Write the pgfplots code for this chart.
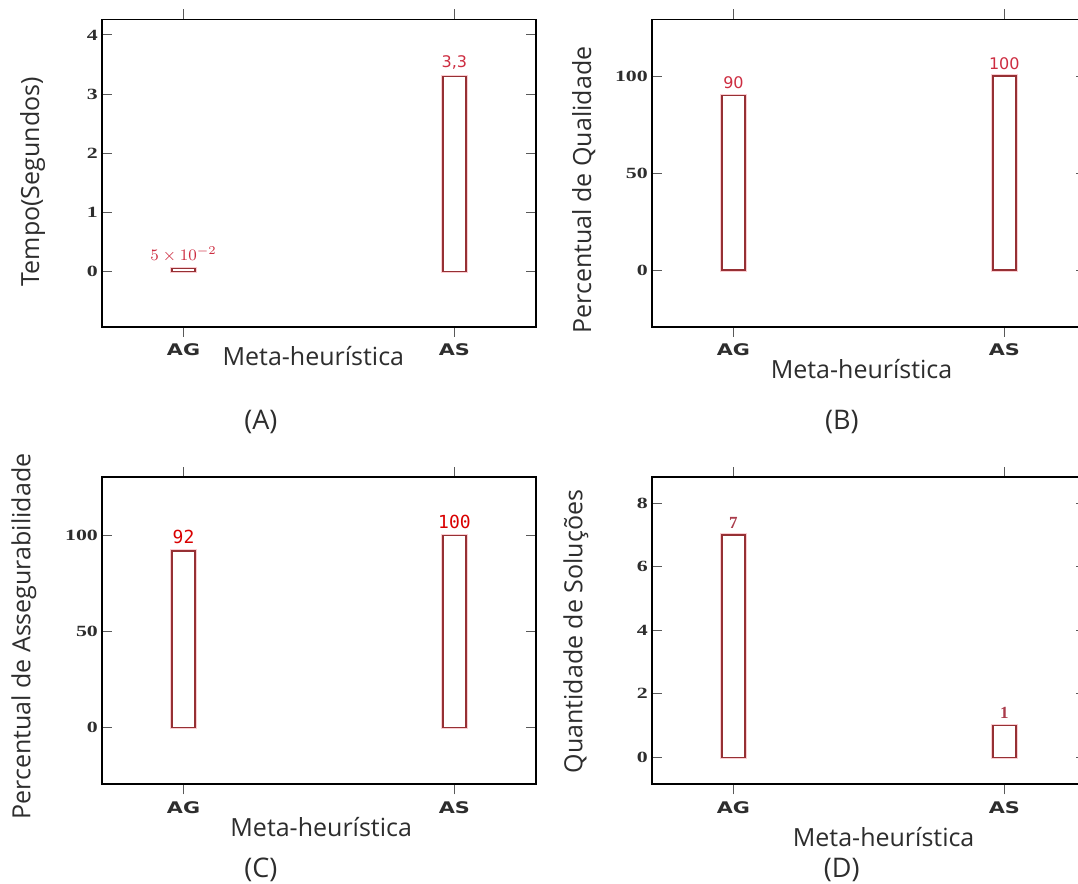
\documentclass[border=0pt]{standalone}
\usepackage{fontspec}
\setmainfont{Open Sans}
\newfontfamily\tickserif[FakeStretch=1.4, BoldFeatures={FakeStretch=1.4}]{Liberation Serif}
\newfontfamily\ticksans[FakeStretch=1.3, BoldFeatures={FakeStretch=1.3}]{DejaVu Sans}
\newfontfamily\valsans{DejaVu Sans}
\newfontfamily\valmono{DejaVu Sans Mono}
\newfontfamily\valserif{Liberation Serif}
\usepackage{pgfplots}
\pgfplotsset{compat=1.18}
\definecolor{baredge}{RGB}{150,48,52}
\definecolor{barhalo}{RGB}{250,205,210}
\definecolor{vallab}{RGB}{205,45,65}
\definecolor{vallabD}{RGB}{170,60,75}
\definecolor{txt}{RGB}{45,45,45}
\pgfplotsset{
  panel/.style={
    width=216.7pt, height=153.6pt, scale only axis,
    xmin=-0.3, xmax=1.3, xtick={0,1}, xticklabels={AG,AS},
    xtick align=outside, ytick align=inside,
    major tick length=5pt,
    axis line style={line width=0.9pt},
    every tick/.style={gray!70!black, line width=0.5pt},
    x tick label style={font=\ticksans\bfseries\fontsize{8}{9}\selectfont, text=txt},
    y tick label style={font=\tickserif\bfseries\fontsize{7.8}{9}\selectfont, text=txt, inner sep=2pt},
    /pgf/number format/assume math mode=true,
    ybar, bar width=11.5pt,
    label style={font=\fontsize{12.5}{14}\selectfont, text=txt},
    xlabel={Meta-heurística},
    clip=false,
    nodes near coords, point meta=explicit symbolic,
    every node near coord/.append style={anchor=south, inner sep=1pt, yshift=2pt, text=vallab, font=\valsans\fontsize{8}{9}\selectfont},
  },
  bars/.style={draw=baredge, fill=white, line width=0.7pt, preaction={draw=barhalo, line width=1.8pt}},
}
\begin{document}
\begin{tikzpicture}
\path[use as bounding box, clip] (0,0) rectangle (539pt,-442pt);
% (A)
\begin{axis}[panel, at={(51.15pt,-163.35pt)}, anchor=south west,
  ymin=-0.93, ymax=4.26, ytick={0,1,2,3,4},
  ylabel={Tempo(Segundos)},
  xlabel style={at={(axis description cs:0.487,-0.094)}, anchor=center},
  ylabel style={at={(axis description cs:-0.161,0.472)}, anchor=center}]
\addplot[bars] coordinates {(0,0.05) [\(5\times10^{-2}\)] (1,3.3) [{3,3}]};
\node[font=\fontsize{13.5}{15}\selectfont, text=txt] at (axis description cs:0.366,-0.309) {(A)};
\end{axis}
% (B)
\begin{axis}[panel, at={(326.1pt,-163.35pt)}, anchor=south west,
  ymin=-29.2, ymax=129.2, ytick={0,50,100},
  ylabel={Percentual de Qualidade},
  xlabel style={at={(axis description cs:0.483,-0.138)}, anchor=center},
  ylabel style={at={(axis description cs:-0.158,0.445)}, anchor=center}]
\addplot[bars] coordinates {(0,90) [90] (1,100) [100]};
\node[font=\fontsize{13.5}{15}\selectfont, text=txt] at (axis description cs:0.4375,-0.311) {(B)};
\end{axis}
% (C)
\begin{axis}[panel, at={(51.15pt,-392.15pt)}, anchor=south west,
  ymin=-29.7, ymax=130.5, ytick={0,50,100},
  ylabel={Percentual de Assegurabilidade},
  xlabel style={at={(axis description cs:0.505,-0.138)}, anchor=center},
  ylabel style={at={(axis description cs:-0.181,0.481)}, anchor=center},
  every node near coord/.append style={font=\valmono\fontsize{9}{10}\selectfont, text=red!85!black}]
\addplot[bars] coordinates {(0,92) [92] (1,100) [100]};
\node[font=\fontsize{13.5}{15}\selectfont, text=txt] at (axis description cs:0.366,-0.279) {(C)};
\end{axis}
% (D)
\begin{axis}[panel, at={(326.1pt,-392.15pt)}, anchor=south west,
  ymin=-0.85, ymax=8.82, ytick={0,2,4,6,8},
  ylabel={Quantidade de Soluções},
  xlabel style={at={(axis description cs:0.534,-0.171)}, anchor=center},
  ylabel style={at={(axis description cs:-0.176,0.497)}, anchor=center},
  every node near coord/.append style={font=\valserif\bfseries\fontsize{8.5}{10}\selectfont, text=vallabD}]
\addplot[bars] coordinates {(0,7) [7] (1,1) [1]};
\node[font=\fontsize{13.5}{15}\selectfont, text=txt] at (axis description cs:0.4375,-0.279) {(D)};
\end{axis}
\end{tikzpicture}
\end{document}
